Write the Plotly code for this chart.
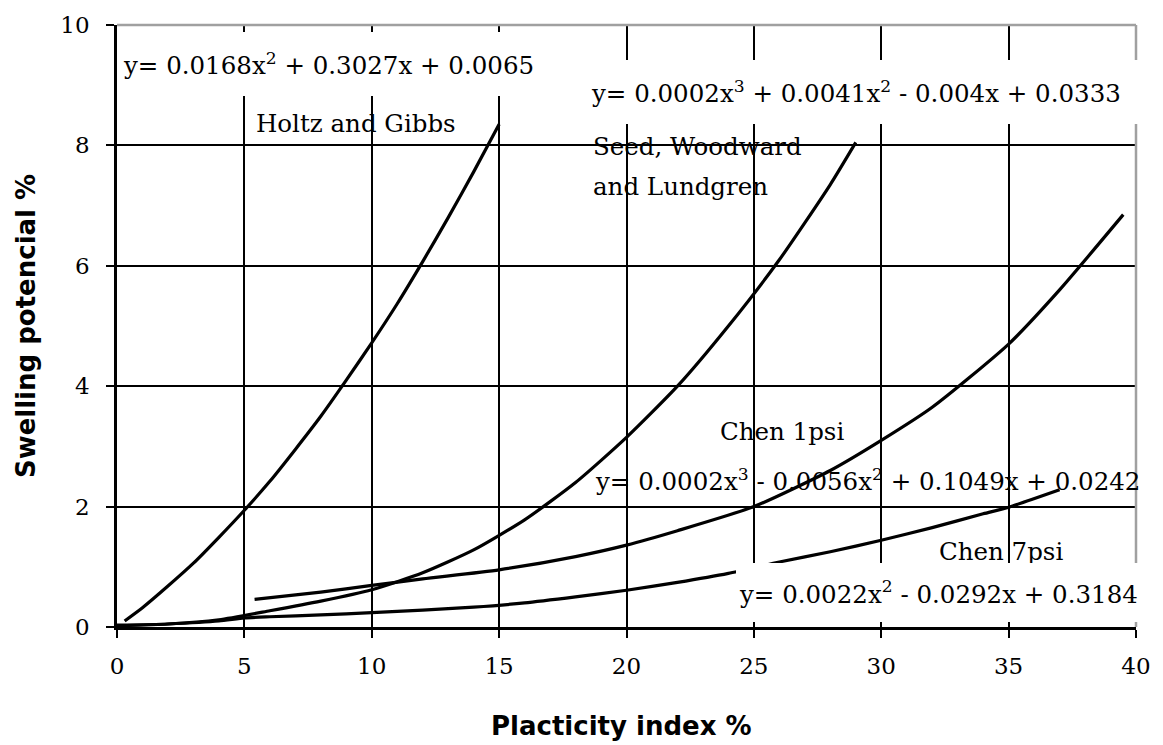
import plotly.graph_objects as go

# Plasticity index (%) sample points and swelling potential (%) for each correlation
holtz_x = [0.3, 1, 2, 3, 4, 5, 6, 7, 8, 9, 10, 11, 12, 13, 14, 15]
holtz_y = [0.10, 0.32, 0.68, 1.06, 1.49, 1.94, 2.42, 2.95, 3.50, 4.10, 4.72, 5.37, 6.07, 6.80, 7.56, 8.35]

seed_x = [0, 2, 4, 6, 8, 10, 12, 14, 16, 18, 20, 22, 24, 26, 28, 29]
seed_y = [0.03, 0.05, 0.12, 0.27, 0.43, 0.62, 0.90, 1.28, 1.78, 2.40, 3.15, 4.00, 5.00, 6.10, 7.35, 8.05]

chen1_x = [5.4, 8, 10, 12, 15, 18, 20, 22, 25, 28, 30, 32, 35, 37, 39.5]
chen1_y = [0.46, 0.58, 0.69, 0.80, 0.95, 1.17, 1.36, 1.60, 2.00, 2.60, 3.10, 3.65, 4.70, 5.60, 6.85]

chen7_x = [0, 2, 4, 5, 6, 8, 10, 12, 14, 16, 18, 20, 22, 24, 26, 28, 30, 32, 34, 35, 37]
chen7_y = [0.02, 0.05, 0.10, 0.15, 0.17, 0.20, 0.24, 0.28, 0.33, 0.40, 0.50, 0.61, 0.74, 0.89,
           1.08, 1.25, 1.44, 1.65, 1.88, 1.99, 2.28]

x_ticks = [0, 5, 10, 15, 20, 25, 30, 35, 40]
y_ticks = [0, 2, 4, 6, 8, 10]

SERIF = "DejaVu Serif"
SANS = "DejaVu Sans"

fig = go.Figure()
for xs, ys in [(holtz_x, holtz_y), (seed_x, seed_y), (chen1_x, chen1_y), (chen7_x, chen7_y)]:
    fig.add_trace(go.Scatter(x=xs, y=ys, mode="lines",
                             line=dict(color="black", width=3.2, shape="spline", smoothing=0.6),
                             showlegend=False, hoverinfo="skip"))

axis_common = dict(
    showline=True, linecolor="black", linewidth=2.5,
    ticks="outside", ticklen=8, tickwidth=2, tickcolor="black",
    showgrid=True, gridcolor="black", gridwidth=2,
    zeroline=False,
    tickfont=dict(family=SERIF, size=23, color="black"),
)

fig.update_xaxes(range=[0, 40], tickvals=x_ticks, ticktext=[str(v) for v in x_ticks],
                 ticklabelstandoff=9, **axis_common)
fig.update_yaxes(range=[0, 10], tickvals=y_ticks, ticktext=[str(v) for v in y_ticks],
                 ticklabelstandoff=12,
                 title=dict(text="Swelling potencial %",
                            font=dict(family=SANS, size=26, color="black", weight="bold"),
                            standoff=18),
                 **axis_common)

# light frame on top and right
fig.add_shape(type="line", xref="paper", yref="paper", x0=0, x1=1, y0=1, y1=1,
              line=dict(color="#a0a0a0", width=2.5), layer="above")
fig.add_shape(type="line", xref="paper", yref="paper", x0=1, x1=1, y0=0, y1=1,
              line=dict(color="#a0a0a0", width=2.5), layer="above")

txt = dict(family=SERIF, size=24.5, color="black")

def label(text, x, y, xanchor="left", **kw):
    fig.add_annotation(text=text, x=x, y=y, xref="x", yref="y", xanchor=xanchor, yanchor="middle",
                       showarrow=False, font=txt, **kw)

boxed = dict(bgcolor="white", borderwidth=0, borderpad=3, align="left", valign="middle")

label("y= 0.0168x<sup>2</sup> + 0.3027x + 0.0065", 0.1, 9.36, width=422, height=58, **boxed)
label("Holtz and Gibbs", 5.36, 8.36)
label("y= 0.0002x<sup>3</sup> + 0.0041x<sup>2</sup> - 0.004x + 0.0333", 18.5, 8.89,
      width=556, height=58, **boxed)
label("Seed, Woodward", 18.6, 7.98)
label("and Lundgren", 18.6, 7.32)
label("Chen 1psi", 26.1, 3.25, xanchor="center")
label("y= 0.0002x<sup>3</sup> - 0.0056x<sup>2</sup> + 0.1049x + 0.0242", 18.7, 2.45)
label("Chen 7psi", 34.7, 1.26, xanchor="center")
label("y= 0.0022x<sup>2</sup> - 0.0292x + 0.3184", 24.3, 0.57, width=418, height=53, **boxed)

fig.add_annotation(text="Placticity index %", xref="paper", yref="paper", x=0.495, y=0,
                   yshift=-99, xanchor="center", yanchor="middle", showarrow=False,
                   font=dict(family=SANS, size=26, color="black", weight="bold"))

fig.update_layout(
    width=1163, height=745,
    margin=dict(l=117, r=20, t=21, b=118),
    paper_bgcolor="white", plot_bgcolor="white",
    font=dict(family=SERIF, color="black"),
)

fig.write_html("out.html")
